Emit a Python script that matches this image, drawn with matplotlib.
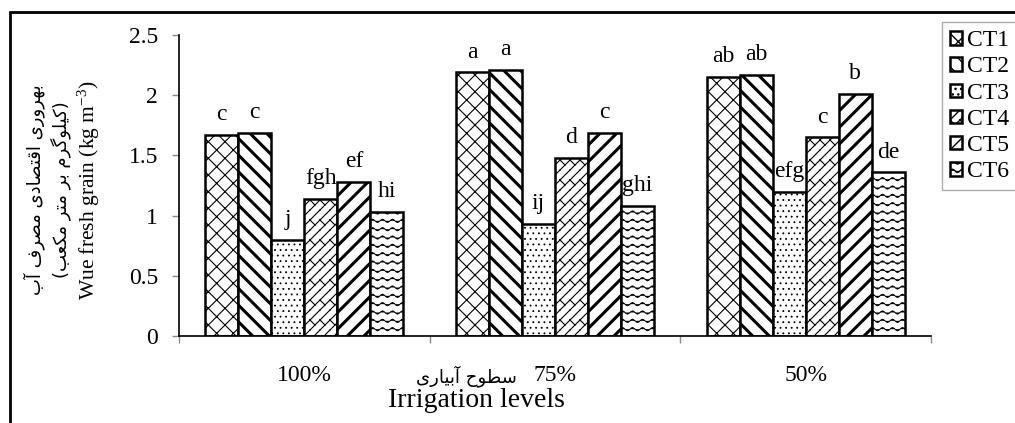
import warnings
warnings.filterwarnings('ignore')
import numpy as np
import matplotlib
matplotlib.use('Agg')
import matplotlib.pyplot as plt
import matplotlib.hatch as mhatch
from matplotlib.path import Path
from matplotlib.patches import Rectangle

# ---------------- data ----------------
categories = ['100%', '75%', '50%']
series_names = ['CT1', 'CT2', 'CT3', 'CT4', 'CT5', 'CT6']
CT1 = [1.67, 2.19, 2.15]
CT2 = [1.69, 2.21, 2.17]
CT3 = [0.80, 0.93, 1.20]
CT4 = [1.14, 1.48, 1.65]
CT5 = [1.28, 1.69, 2.01]
CT6 = [1.03, 1.08, 1.36]
letters_CT1 = ['c', 'a', 'ab']
letters_CT2 = ['c', 'a', 'ab']
letters_CT3 = ['j', 'ij', 'efg']
letters_CT4 = ['fgh', 'd', 'c']
letters_CT5 = ['ef', 'c', 'b']
letters_CT6 = ['hi', 'ghi', 'de']
yticks = [0, 0.5, 1, 1.5, 2, 2.5]
ytick_labels = ['0', '0.5', '1', '1.5', '2', '2.5']
ylabel_fa1 = 'بهروری اقتصادی مصرف آب'
ylabel_fa2 = '(کیلوگرم بر متر مکعب)'
ylabel_en = 'Wue fresh grain (kg m$^{-3}$)'
xlabel_fa = 'سطوح آبیاری'
xlabel_en = 'Irrigation levels'

# ---------------- simple Persian shaping ----------------
_FORMS = {
    'ا': ('\uFE8D', '\uFE8E', None, None),
    'آ': ('\uFE81', '\uFE82', None, None),
    'ب': ('\uFE8F', '\uFE90', '\uFE91', '\uFE92'),
    'ت': ('\uFE95', '\uFE96', '\uFE97', '\uFE98'),
    'ح': ('\uFEA1', '\uFEA2', '\uFEA3', '\uFEA4'),
    'د': ('\uFEA9', '\uFEAA', None, None),
    'ر': ('\uFEAD', '\uFEAE', None, None),
    'س': ('\uFEB1', '\uFEB2', '\uFEB3', '\uFEB4'),
    'ص': ('\uFEB9', '\uFEBA', '\uFEBB', '\uFEBC'),
    'ط': ('\uFEC1', '\uFEC2', '\uFEC3', '\uFEC4'),
    'ع': ('\uFEC9', '\uFECA', '\uFECB', '\uFECC'),
    'ف': ('\uFED1', '\uFED2', '\uFED3', '\uFED4'),
    'ق': ('\uFED5', '\uFED6', '\uFED7', '\uFED8'),
    'ک': ('\uFB8E', '\uFB8F', '\uFB90', '\uFB91'),
    'گ': ('\uFB92', '\uFB93', '\uFB94', '\uFB95'),
    'ل': ('\uFEDD', '\uFEDE', '\uFEDF', '\uFEE0'),
    'م': ('\uFEE1', '\uFEE2', '\uFEE3', '\uFEE4'),
    'ه': ('\uFEE9', '\uFEEA', '\uFEEB', '\uFEEC'),
    'و': ('\uFEED', '\uFEEE', None, None),
    'ی': ('\uFBFC', '\uFBFD', '\uFBFE', '\uFBFF'),
}


def shape_fa(s):
    out = []
    n = len(s)
    for i, ch in enumerate(s):
        if ch not in _FORMS:
            out.append(ch)
            continue
        f = _FORMS[ch]
        prev = s[i - 1] if i > 0 else ''
        nxt = s[i + 1] if i < n - 1 else ''
        jp = prev in _FORMS and _FORMS[prev][2] is not None
        jn = nxt in _FORMS and f[2] is not None
        if jp and jn:
            out.append(f[3])
        elif jp:
            out.append(f[1])
        elif jn:
            out.append(f[2])
        else:
            out.append(f[0])
    vis = ''.join(reversed(out))
    return vis.translate(str.maketrans('()', ')('))


# ---------------- custom hatches ----------------
class WaveHatch(mhatch.HatchPatternBase):
    def __init__(self, hatch, density):
        self.num_lines = int(hatch.count('~') * 12)
        self.npts = 81
        self.num_vertices = self.num_lines * self.npts

    def set_vertices_and_codes(self, vertices, codes):
        t = np.linspace(0, 1, self.npts)
        for i in range(self.num_lines):
            y0 = (i + 0.5) / self.num_lines
            sl = slice(i * self.npts, (i + 1) * self.npts)
            vertices[sl, 0] = t
            vertices[sl, 1] = y0 + 0.016 * np.sin(2 * np.pi * 10 * t)
            codes[sl] = Path.LINETO
            codes[i * self.npts] = Path.MOVETO


class BrickHatch(mhatch.HatchPatternBase):
    def __init__(self, hatch, density):
        self.N = int(hatch.count('b') * 10)
        self.segs = []
        N = self.N
        for j in range(N):
            for k in range(N):
                x, y = j / N, k / N
                self.segs.append(((x, y), (x + 1 / N, y + 1 / N)))
                if k % 2 == 0:
                    self.segs.append(((x, y), (x + 0.5 / N, y - 0.5 / N)))
                    self.segs.append(((x, y + 1), (x + 0.5 / N, y + 1 - 0.5 / N)))
        self.num_vertices = len(self.segs) * 2 if N else 0

    def set_vertices_and_codes(self, vertices, codes):
        for i, (a, b) in enumerate(self.segs):
            vertices[2 * i] = a
            vertices[2 * i + 1] = b
            codes[2 * i] = Path.MOVETO
            codes[2 * i + 1] = Path.LINETO


mhatch._hatch_types.append(WaveHatch)
mhatch._hatch_types.append(BrickHatch)

# ---------------- figure ----------------
plt.rcParams['font.family'] = ['Liberation Serif', 'DejaVu Sans']
plt.rcParams['mathtext.fontset'] = 'custom'
plt.rcParams['mathtext.rm'] = 'Liberation Serif'
plt.rcParams['mathtext.it'] = 'Liberation Serif:italic'

W, H = 1015, 423
fig = plt.figure(figsize=(W / 100, H / 100), dpi=100)
ax = fig.add_axes([179 / W, 1 - 336 / H, 752 / W, 301 / H])

values = [CT1, CT2, CT3, CT4, CT5, CT6]
letters = [letters_CT1, letters_CT2, letters_CT3, letters_CT4, letters_CT5, letters_CT6]
hatches = ['xx', '\\\\', '...', 'b', '//', '~']
hatch_lw = [0.8, 2.2, 0.6, 0.8, 2.2, 0.7]

x = np.arange(len(categories))
bw = 0.1316
handles = []
for i, (vals, name) in enumerate(zip(values, series_names)):
    pos = x + (i - 2.5) * bw
    with plt.rc_context({'hatch.linewidth': hatch_lw[i]}):
        bars = ax.bar(pos, vals, width=bw, color='white', edgecolor='black',
                      linewidth=1.8, hatch=hatches[i], label=name)
    for b in bars:
        if hasattr(b, 'set_hatch_linewidth'):
            b.set_hatch_linewidth(hatch_lw[i])
    handles.append(bars)
    for p, v, t in zip(pos, vals, letters[i]):
        ax.annotate(t, (p, v), xytext=(0, 7), textcoords='offset points',
                    ha='center', va='bottom', fontsize=17)

ax.set_xlim(-0.5, 2.5)
ax.set_ylim(0, 2.5)
ax.set_yticks(yticks)
ax.set_yticklabels(ytick_labels)
ax.set_xticks([-0.5, 0.5, 1.5, 2.5])
ax.set_xticklabels([])
ax.set_xticks(x, minor=True)
ax.set_xticklabels(categories, minor=True)
ax.tick_params(axis='both', which='major', direction='out', length=5,
               width=1, color='#8c8c8c', labelsize=17)
ax.tick_params(axis='y', pad=10)
ax.tick_params(axis='x', which='minor', length=0, pad=21, labelsize=17)
for s in ['top', 'right']:
    ax.spines[s].set_visible(False)
for s in ['left', 'bottom']:
    ax.spines[s].set_linewidth(1.2)
    ax.spines[s].set_color('black')

# y labels
fig.text(34 / W, 1 - 190 / H, shape_fa(ylabel_fa1), rotation=90,
         ha='center', va='center', fontsize=13, family=['DejaVu Sans'])
fig.text(61 / W, 1 - 190 / H, shape_fa(ylabel_fa2), rotation=90,
         ha='center', va='center', fontsize=13, family=['DejaVu Sans'])
fig.text(89 / W, 1 - 190 / H, ylabel_en, rotation=90,
         ha='center', va='center', fontsize=15.5)

# x labels
fig.text(466 / W, 1 - 376 / H, shape_fa(xlabel_fa), ha='center', va='center',
         fontsize=13, family=['DejaVu Sans'])
fig.text(476 / W, 1 - 400 / H, xlabel_en, ha='center', va='center', fontsize=20)

# legend
leg = fig.legend(handles=handles, labels=series_names, loc='upper left',
                 bbox_to_anchor=(942 / W, 1 - 22 / H), frameon=True,
                 fancybox=False, edgecolor='#9a9a9a', fontsize=17,
                 handlelength=0.5, handleheight=0.5, handletextpad=0.2,
                 labelspacing=0.22, borderpad=0.35, borderaxespad=0)
leg.get_frame().set_linewidth(1.0)

# outer border
fig.patches.append(Rectangle((10 / W, -0.2), 2, 1.2 - 12 / H, transform=fig.transFigure,
                             fill=False, edgecolor='black', linewidth=2.0))

fig.savefig('out.png', dpi=100)
